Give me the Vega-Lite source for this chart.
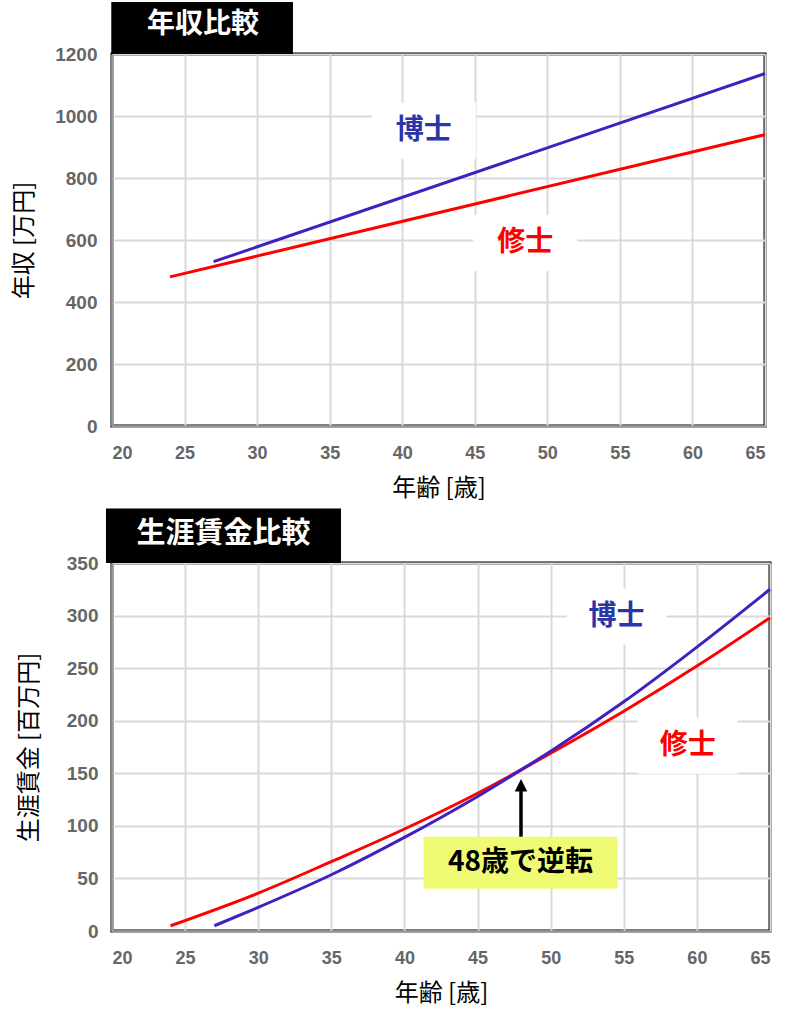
{
  "$schema": "https://vega.github.io/schema/vega-lite/v6.json",
  "background": "white",
  "padding": {"left": 11, "top": 0, "right": 5, "bottom": 5},
  "columns": 1,
  "spacing": 4,
  "config": {
    "view": {"stroke": "black", "strokeWidth": 3},
    "axis": {
      "grid": true, "gridColor": "#d9d9d9", "gridWidth": 2,
      "domainColor": "#999999", "domainWidth": 2, "ticks": false,
      "labelColor": "#666666", "labelFont": "Liberation Sans", "labelFontWeight": "bold", "labelFontSize": 19,
      "titleFont": "Noto Sans CJK JP", "titleFontWeight": "normal", "titleFontSize": 24, "titleColor": "black"
    },
    "axisX": {"labelFontSize": 18, "labelPadding": 18, "titlePadding": 14},
    "axisY": {"labelPadding": 15, "titlePadding": 18, "format": "d"}
  },
  "concat": [
    {
      "width": 653,
      "height": 372,
      "layer": [
        {
          "data": {"values": [
            {"series": "博士", "age": 27, "income": 530},
            {"series": "博士", "age": 65, "income": 1137},
            {"series": "修士", "age": 24, "income": 481},
            {"series": "修士", "age": 65, "income": 940}
          ]},
          "mark": {"type": "line", "strokeWidth": 3},
          "encoding": {
            "x": {"field": "age", "type": "quantitative", "scale": {"domain": [20, 65], "nice": false, "zero": false}, "axis": {"title": "年齢 [歳]", "values": [20, 25, 30, 35, 40, 45, 50, 55, 60, 65]}},
            "y": {"field": "income", "type": "quantitative", "scale": {"domain": [0, 1200], "nice": false}, "axis": {"title": "年収 [万円]", "values": [0, 200, 400, 600, 800, 1000, 1200]}},
            "color": {"field": "series", "type": "nominal", "scale": {"domain": ["博士", "修士"], "range": ["#4020c0", "#ff0000"]}, "legend": null}
          }
        },
        {
          "data": {"values": [{}]},
          "mark": {"type": "rect", "color": "black", "clip": false},
          "encoding": {
            "x": {"datum": 19.95, "type": "quantitative", "scale": {"domain": [20, 65], "nice": false, "zero": false}},
            "x2": {"datum": 32.47},
            "y": {"datum": 1200, "type": "quantitative", "scale": {"domain": [0, 1200], "nice": false}},
            "y2": {"datum": 1368}
          }
        },
        {
          "data": {"values": [{}]},
          "mark": {"type": "text", "color": "white", "font": "Noto Sans CJK JP", "fontWeight": "bold", "fontSize": 28, "clip": false, "baseline": "middle", "align": "center"},
          "encoding": {
            "x": {"datum": 26.27, "type": "quantitative", "scale": {"domain": [20, 65], "nice": false, "zero": false}},
            "y": {"datum": 1292, "type": "quantitative", "scale": {"domain": [0, 1200], "nice": false}},
            "text": {"value": "年収比較"}
          }
        },
        {
          "data": {"values": [{}]},
          "mark": {"type": "point", "shape": "M-1,-0.54L1,-0.54L1,0.54L-1,0.54Z", "size": 10816, "filled": true, "color": "white", "opacity": 1},
          "encoding": {
            "x": {"datum": 41.49, "type": "quantitative", "scale": {"domain": [20, 65], "nice": false, "zero": false}},
            "y": {"datum": 952, "type": "quantitative", "scale": {"domain": [0, 1200], "nice": false}}
          }
        },
        {
          "data": {"values": [{}]},
          "mark": {"type": "point", "shape": "M-1,-0.54L1,-0.54L1,0.54L-1,0.54Z", "size": 10816, "filled": true, "color": "white", "opacity": 1},
          "encoding": {
            "x": {"datum": 48.48, "type": "quantitative", "scale": {"domain": [20, 65], "nice": false, "zero": false}},
            "y": {"datum": 591, "type": "quantitative", "scale": {"domain": [0, 1200], "nice": false}}
          }
        },
        {
          "data": {"values": [{}]},
          "mark": {"type": "text", "color": "#2a36a8", "font": "Noto Sans CJK JP", "fontWeight": "bold", "fontSize": 28, "baseline": "middle", "align": "center"},
          "encoding": {
            "x": {"datum": 41.49, "type": "quantitative", "scale": {"domain": [20, 65], "nice": false, "zero": false}},
            "y": {"datum": 952, "type": "quantitative", "scale": {"domain": [0, 1200], "nice": false}},
            "text": {"value": "博士"}
          }
        },
        {
          "data": {"values": [{}]},
          "mark": {"type": "text", "color": "#ff0000", "font": "Noto Sans CJK JP", "fontWeight": "bold", "fontSize": 28, "baseline": "middle", "align": "center"},
          "encoding": {
            "x": {"datum": 48.48, "type": "quantitative", "scale": {"domain": [20, 65], "nice": false, "zero": false}},
            "y": {"datum": 591, "type": "quantitative", "scale": {"domain": [0, 1200], "nice": false}},
            "text": {"value": "修士"}
          }
        }
      ]
    },
    {
      "width": 658,
      "height": 368,
      "layer": [
        {
          "data": {"values": [
            {"series": "修士", "age": 24, "total": 5},
            {"series": "修士", "age": 30, "total": 36},
            {"series": "修士", "age": 35, "total": 66},
            {"series": "修士", "age": 40, "total": 97},
            {"series": "修士", "age": 45, "total": 131},
            {"series": "修士", "age": 48, "total": 153.5},
            {"series": "修士", "age": 50, "total": 169},
            {"series": "修士", "age": 55, "total": 209},
            {"series": "修士", "age": 60, "total": 252},
            {"series": "修士", "age": 65, "total": 298},
            {"series": "博士", "age": 27, "total": 5},
            {"series": "博士", "age": 30, "total": 22.5},
            {"series": "博士", "age": 35, "total": 53.5},
            {"series": "博士", "age": 40, "total": 89},
            {"series": "博士", "age": 45, "total": 128},
            {"series": "博士", "age": 48, "total": 153.5},
            {"series": "博士", "age": 50, "total": 171},
            {"series": "博士", "age": 55, "total": 218},
            {"series": "博士", "age": 60, "total": 270},
            {"series": "博士", "age": 65, "total": 325}
          ]},
          "mark": {"type": "line", "strokeWidth": 3, "interpolate": "monotone"},
          "encoding": {
            "x": {"field": "age", "type": "quantitative", "scale": {"domain": [20, 65], "nice": false, "zero": false}, "axis": {"title": "年齢 [歳]", "values": [20, 25, 30, 35, 40, 45, 50, 55, 60, 65]}},
            "y": {"field": "total", "type": "quantitative", "scale": {"domain": [0, 350], "nice": false}, "axis": {"title": "生涯賃金 [百万円]", "titlePadding": 25, "labelPadding": 14, "values": [0, 50, 100, 150, 200, 250, 300, 350]}},
            "color": {"field": "series", "type": "nominal", "scale": {"domain": ["博士", "修士"], "range": ["#4020c0", "#ff0000"]}, "legend": null}
          }
        },
        {
          "data": {"values": [{}]},
          "mark": {"type": "rect", "color": "black", "clip": false},
          "encoding": {
            "x": {"datum": 19.59, "type": "quantitative", "scale": {"domain": [20, 65], "nice": false, "zero": false}},
            "x2": {"datum": 35.66},
            "y": {"datum": 350, "type": "quantitative", "scale": {"domain": [0, 350], "nice": false}},
            "y2": {"datum": 401.9}
          }
        },
        {
          "data": {"values": [{}]},
          "mark": {"type": "text", "color": "white", "font": "Noto Sans CJK JP", "fontWeight": "bold", "fontSize": 29, "clip": false, "baseline": "middle", "align": "center"},
          "encoding": {
            "x": {"datum": 27.63, "type": "quantitative", "scale": {"domain": [20, 65], "nice": false, "zero": false}},
            "y": {"datum": 377.5, "type": "quantitative", "scale": {"domain": [0, 350], "nice": false}},
            "text": {"value": "生涯賃金比較"}
          }
        },
        {
          "data": {"values": [{}]},
          "mark": {"type": "point", "shape": "M-1,-0.56L1,-0.56L1,0.56L-1,0.56Z", "size": 10000, "filled": true, "color": "white", "opacity": 1},
          "encoding": {
            "x": {"datum": 54.51, "type": "quantitative", "scale": {"domain": [20, 65], "nice": false, "zero": false}},
            "y": {"datum": 298.8, "type": "quantitative", "scale": {"domain": [0, 350], "nice": false}}
          }
        },
        {
          "data": {"values": [{}]},
          "mark": {"type": "point", "shape": "M-1,-0.56L1,-0.56L1,0.56L-1,0.56Z", "size": 10000, "filled": true, "color": "white", "opacity": 1},
          "encoding": {
            "x": {"datum": 59.37, "type": "quantitative", "scale": {"domain": [20, 65], "nice": false, "zero": false}},
            "y": {"datum": 176.2, "type": "quantitative", "scale": {"domain": [0, 350], "nice": false}}
          }
        },
        {
          "data": {"values": [{}]},
          "mark": {"type": "text", "color": "#2a36a8", "font": "Noto Sans CJK JP", "fontWeight": "bold", "fontSize": 28, "baseline": "middle", "align": "center"},
          "encoding": {
            "x": {"datum": 54.51, "type": "quantitative", "scale": {"domain": [20, 65], "nice": false, "zero": false}},
            "y": {"datum": 298.8, "type": "quantitative", "scale": {"domain": [0, 350], "nice": false}},
            "text": {"value": "博士"}
          }
        },
        {
          "data": {"values": [{}]},
          "mark": {"type": "text", "color": "#ff0000", "font": "Noto Sans CJK JP", "fontWeight": "bold", "fontSize": 28, "baseline": "middle", "align": "center"},
          "encoding": {
            "x": {"datum": 59.37, "type": "quantitative", "scale": {"domain": [20, 65], "nice": false, "zero": false}},
            "y": {"datum": 176.2, "type": "quantitative", "scale": {"domain": [0, 350], "nice": false}},
            "text": {"value": "修士"}
          }
        },
        {
          "data": {"values": [{}]},
          "mark": {"type": "rule", "color": "black", "strokeWidth": 3.5},
          "encoding": {
            "x": {"datum": 47.97, "type": "quantitative", "scale": {"domain": [20, 65], "nice": false, "zero": false}},
            "y": {"datum": 89.5, "type": "quantitative", "scale": {"domain": [0, 350], "nice": false}},
            "y2": {"datum": 134}
          }
        },
        {
          "data": {"values": [{}]},
          "mark": {"type": "point", "shape": "M0,-1L0.5,0L-0.5,0Z", "size": 625, "filled": true, "color": "black", "opacity": 1},
          "encoding": {
            "x": {"datum": 47.97, "type": "quantitative", "scale": {"domain": [20, 65], "nice": false, "zero": false}},
            "y": {"datum": 132.7, "type": "quantitative", "scale": {"domain": [0, 350], "nice": false}}
          }
        },
        {
          "data": {"values": [{}]},
          "mark": {"type": "point", "shape": "M-1,-0.268L1,-0.268L1,0.268L-1,0.268Z", "size": 37636, "filled": true, "color": "#effb73", "opacity": 1},
          "encoding": {
            "x": {"datum": 47.94, "type": "quantitative", "scale": {"domain": [20, 65], "nice": false, "zero": false}},
            "y": {"datum": 64.8, "type": "quantitative", "scale": {"domain": [0, 350], "nice": false}}
          }
        },
        {
          "data": {"values": [{}]},
          "mark": {"type": "text", "color": "black", "font": "Noto Sans CJK JP", "fontWeight": "bold", "fontSize": 28, "baseline": "middle", "align": "center"},
          "encoding": {
            "x": {"datum": 47.94, "type": "quantitative", "scale": {"domain": [20, 65], "nice": false, "zero": false}},
            "y": {"datum": 64.8, "type": "quantitative", "scale": {"domain": [0, 350], "nice": false}},
            "text": {"value": "48歳で逆転"}
          }
        }
      ]
    }
  ]
}
